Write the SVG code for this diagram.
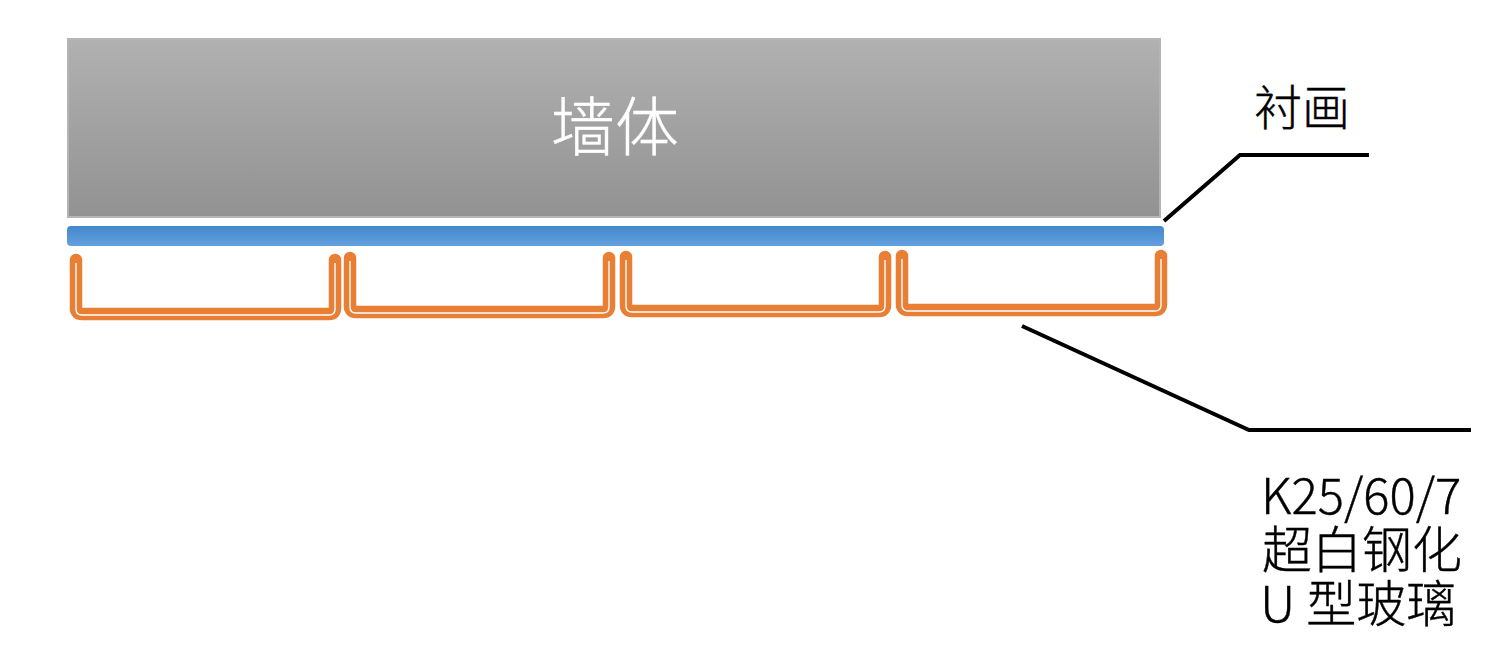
<svg xmlns="http://www.w3.org/2000/svg" width="1503" height="650" viewBox="0 0 1503 650">
<style>
.u{fill:none;stroke:#e97e35;stroke-width:12.5;stroke-linecap:round;stroke-linejoin:round}
.g{fill:none;stroke:#fff;stroke-width:1.4}
.l{fill:none;stroke:#000;stroke-width:4}
text{font-family:"Noto Sans CJK SC","Noto Sans",sans-serif;font-weight:300;fill:#000;font-size:50px;stroke:#000;stroke-width:.4}
</style>
<defs>
<linearGradient id="wall" x1="0" y1="0" x2="0" y2="1"><stop offset="0" stop-color="#b1b1b1"/><stop offset="1" stop-color="#929292"/></linearGradient>
<linearGradient id="bar" x1="0" y1="0" x2="0" y2="1"><stop offset="0" stop-color="#4287cb"/><stop offset="1" stop-color="#64a1de"/></linearGradient>
<path id="ushape" d="M0 0V48Q0 54 6 54H253Q259 54 259 48V0"/>
<path id="ugap" d="M0 3V49Q0 55 6 55H253Q259 55 259 49V3"/>
</defs>
<g id="wall-node">
<rect x="68" y="39" width="1092" height="178" fill="url(#wall)" stroke="#b4b4b4" stroke-width="2"/>
<text x="615" y="150" text-anchor="middle" style="font-size:64px;fill:#fff;stroke:#fff">墙体</text>
</g>
<g id="liner-bar"><rect x="67" y="226" width="1097" height="20" rx="4" fill="url(#bar)"/></g>
<g id="glass-1"><use href="#ushape" x="76" y="260" class="u"/><use href="#ugap" x="76" y="260" class="g"/></g>
<g id="glass-2"><use href="#ushape" x="350" y="258" class="u"/><use href="#ugap" x="350" y="258" class="g"/></g>
<g id="glass-3"><use href="#ushape" x="626" y="257" class="u"/><use href="#ugap" x="626" y="257" class="g"/></g>
<g id="glass-4"><use href="#ushape" x="902" y="256" class="u"/><use href="#ugap" x="902" y="256" class="g"/></g>
<g id="connectors">
<path class="l" d="M1164 221L1240 155H1369"/>
<path class="l" d="M1022 326L1249 430H1471"/>
</g>
<g id="label-liner"><text x="1254" y="125" style="font-size:48px">衬画</text></g>
<g id="label-glass">
<text x="1261" y="514" style="font-size:49px">K25/60/7</text>
<text x="1262" y="568">超白钢化</text>
<text x="1260" y="622">U 型玻璃</text>
</g>
</svg>
